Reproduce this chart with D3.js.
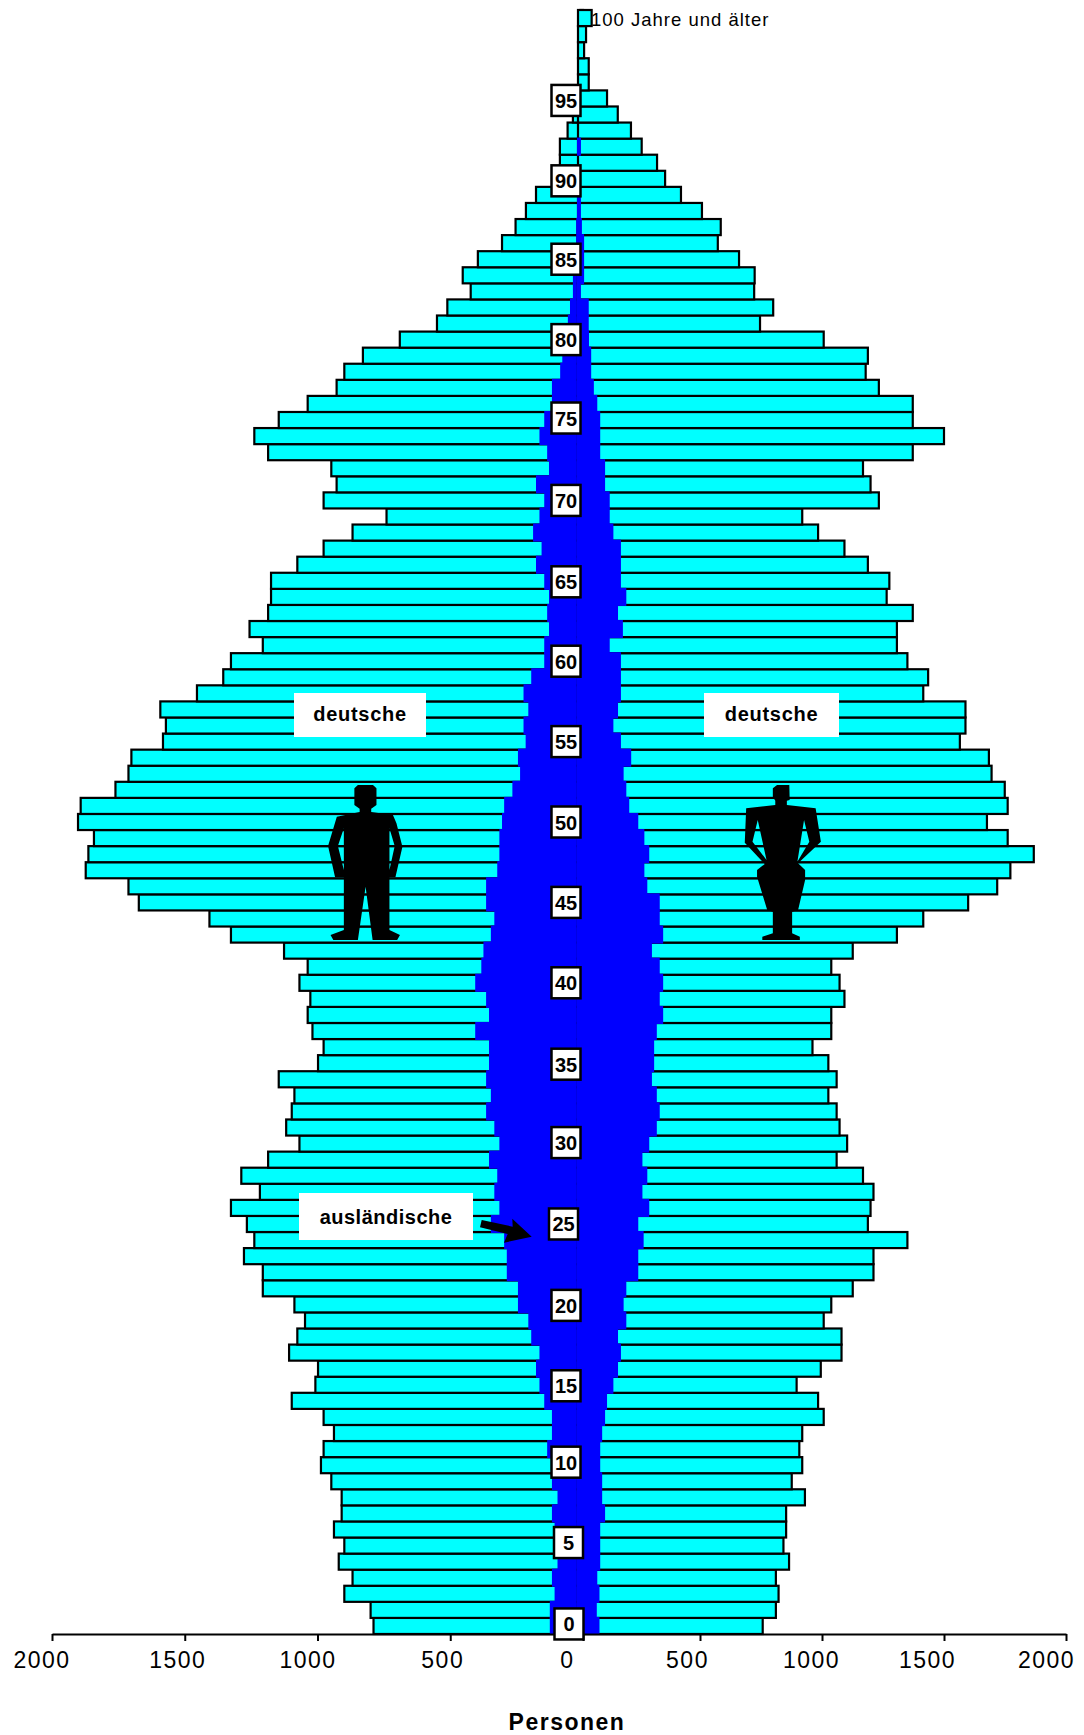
<!DOCTYPE html>
<html lang="de">
<head>
    <meta charset="UTF-8">
    <script src="https://d3js.org/d3.v7.min.js"></script>
    <title>Alterspyramide</title>
    <style>
        html, body { margin: 0; padding: 0; background: #fff; }
        svg { display: block; font-family: "Liberation Sans", Arial, sans-serif; }
    </style>
</head>
<body>
    <div id="chart"></div>

    <script>
        // index = age, 0 .. 100 (100 = "100 Jahre und aelter")
        var leftTotal = [789,800,899,868,920,899,938,909,909,948,987,977,938,977,1097,1008,998,1107,1076,1047,
            1087,1206,1206,1277,1238,1266,1326,1217,1287,1186,1068,1118,1097,1087,1146,998,977,1019,1037,1027,
            1068,1037,1126,1326,1407,1673,1712,1873,1863,1842,1902,1892,1761,1712,1701,1582,1571,1592,1454,1355,
            1326,1206,1256,1186,1175,1175,1076,977,868,740,977,928,948,1186,1238,1146,1037,928,899,829,
            690,550,511,423,453,396,305,254,215,177,102,87,87,58,38,15,10,10,10,10,10];
        var leftForeign = [125,125,107,117,96,107,107,117,96,117,117,135,117,117,146,164,177,164,195,206,
            245,245,287,287,297,347,315,334,323,354,315,334,365,347,365,354,354,406,354,365,
            406,383,375,347,334,365,365,323,315,315,305,297,266,237,245,216,224,206,224,195,
            146,146,128,135,128,146,177,156,188,164,146,177,128,135,164,146,117,117,86,78,
            70,57,49,38,38,34,26,26,19,19,5,5,5,5,5,5,5,5,5,5,5];
        var rightTotal = [757,811,822,811,865,842,853,853,930,876,919,907,919,1007,984,896,995,1080,1080,1007,
            1038,1126,1211,1211,1350,1188,1199,1211,1168,1060,1103,1072,1060,1026,1060,1026,961,1038,1038,1092,
            1072,1038,1126,1307,1415,1599,1718,1772,1868,1761,1676,1761,1749,1695,1684,1565,1588,1588,1415,1435,
            1350,1307,1307,1372,1265,1276,1188,1092,984,919,1233,1199,1168,1372,1500,1372,1372,1233,1179,1188,
            1007,746,800,722,724,660,573,585,508,422,357,324,261,217,163,119,44,44,25,33,56];
        var rightForeign = [88,77,88,79,91,91,91,111,99,99,91,91,99,111,119,145,164,176,164,198,
            187,198,247,247,269,247,292,264,284,264,292,323,335,323,303,312,312,323,349,335,
            349,335,303,349,335,335,284,272,292,272,247,210,198,187,218,176,145,164,176,176,
            176,130,184,164,198,176,176,176,145,130,130,111,111,91,91,91,79,65,54,54,
            45,44,44,12,25,25,25,16,12,12,0,0,12,0,0,0,0,0,0,0,0];
        var ageLabels = [0,5,10,15,20,25,30,35,40,45,50,55,60,65,70,75,80,85,90,95];
        var ticksLeft = [2000,1500,1000,500,0];
        var ticksRight = [500,1000,1500,2000];

        var width = 1084;
        var height = 1735;
        var axisY = 1634;
        var ages = d3.range(0, 101);

        var svg = d3.select('#chart').append('svg')
            .attr('width', width)
            .attr('height', height);

        var xL = d3.scaleLinear().domain([2000, 0]).range([52, 583]);
        var xR = d3.scaleLinear().domain([0, 2000]).range([578, 1066]);
        var y = d3.scaleBand().domain(ages.slice().reverse()).range([10, axisY]);

        // left side first, the right side is laid over the 5px where the two scales overlap
        function side(total, foreign, x, isLeft) {
            var g = svg.append('g');
            g.selectAll('.bar').data(ages).enter().append('rect')
                .attr('class', 'bar')
                .attr('x', function(d) { return isLeft ? x(total[d]) : x(0); })
                .attr('y', function(d) { return y(d); })
                .attr('width', function(d) { return isLeft ? x(0) - x(total[d]) : x(total[d]) - x(0); })
                .attr('height', y.bandwidth())
                .attr('fill', '#00ffff')
                .attr('stroke', '#000')
                .attr('stroke-width', 2.2);
            g.selectAll('.foreign').data(ages.filter(function(d) { return foreign[d] > 0; })).enter().append('rect')
                .attr('class', 'foreign')
                .attr('x', function(d) { return isLeft ? x(foreign[d]) : x(0) - 1; })
                .attr('y', function(d) { return y(d) - 1; })
                .attr('width', function(d) { return isLeft ? x(0) - x(foreign[d]) : x(foreign[d]) - x(0) + 1; })
                .attr('height', y.bandwidth() + 2)
                .attr('fill', '#0000ff');
        }
        side(leftTotal, leftForeign, xL, true);
        side(rightTotal, rightForeign, xR, false);

        // axes, the labels sit left of their ticks in the original
        var leftShift = [-10.5, -7.5, -10, -8, -16];
        var rightShift = [-13, -11, -17, -20];
        function drawAxis(scale, values, shift) {
            var a = svg.append('g')
                .attr('transform', 'translate(0,' + axisY + ')')
                .call(d3.axisBottom(scale).tickValues(values).tickFormat(d3.format('d')).tickSize(7).tickSizeOuter(0));
            a.select('.domain').attr('stroke', '#000').attr('stroke-width', 2);
            a.selectAll('.tick line').attr('stroke', '#000').attr('stroke-width', 2);
            a.selectAll('.tick text')
                .attr('x', function(d, i) { return shift[i]; })
                .attr('y', 18)
                .attr('dy', 16)
                .attr('fill', '#000')
                .style('font-family', '"Liberation Sans", Arial, sans-serif')
                .style('font-size', '23px')
                .style('letter-spacing', '1.5px');
        }
        drawAxis(xL, ticksLeft, leftShift);
        drawAxis(xR, ticksRight, rightShift);

        svg.append('text')
            .attr('x', 567).attr('y', 1730)
            .attr('text-anchor', 'middle')
            .style('font-size', '23px').style('font-weight', 'bold').style('letter-spacing', '1.5px')
            .text('Personen');

        // age boxes, nudged by hand in the original so they do not line up exactly with their rows
        var ageShiftX = {0: 3, 5: 2.5, 25: -2.5};
        var ageShiftY = {0: -2, 5: -3, 10: -3, 15: 1, 20: 1, 30: -1, 35: 1, 65: 1, 75: -2, 90: 2, 95: 2};
        var boxes = svg.selectAll('.age').data(ageLabels).enter().append('g')
            .attr('class', 'age')
            .attr('transform', function(d) {
                return 'translate(' + (566 + (ageShiftX[d] || 0)) + ',' + (y(d) + y.bandwidth() / 2 + (ageShiftY[d] || 0)) + ')';
            });
        boxes.append('rect')
            .attr('x', -14.5).attr('y', -15.5)
            .attr('width', 29).attr('height', 31)
            .attr('fill', '#fff').attr('stroke', '#000').attr('stroke-width', 2.5);
        boxes.append('text')
            .attr('text-anchor', 'middle').attr('y', 7.5)
            .style('font-size', '20px').style('font-weight', 'bold')
            .text(function(d) { return d; });

        svg.append('text')
            .attr('x', 591).attr('y', 25.5)
            .style('font-size', '18.5px').style('letter-spacing', '1px')
            .text('100 Jahre und älter');

        // white name tags
        var tags = [
            {text: 'deutsche', x: 294, y: 693, w: 132, h: 44, ty: 721, ls: 0.7},
            {text: 'deutsche', x: 704, y: 693, w: 135, h: 44, ty: 721, ls: 0.7},
            {text: 'ausländische', x: 299, y: 1193, w: 174, h: 47, ty: 1224, ls: 0.5}
        ];
        var tag = svg.selectAll('.tag').data(tags).enter().append('g').attr('class', 'tag');
        tag.append('rect')
            .attr('x', function(d) { return d.x; }).attr('y', function(d) { return d.y; })
            .attr('width', function(d) { return d.w; }).attr('height', function(d) { return d.h; })
            .attr('fill', '#fff');
        tag.append('text')
            .attr('x', function(d) { return d.x + d.w / 2; }).attr('y', function(d) { return d.ty; })
            .attr('text-anchor', 'middle')
            .style('font-size', '20px').style('font-weight', 'bold')
            .style('letter-spacing', function(d) { return d.ls + 'px'; })
            .text(function(d) { return d.text; });

        // arrow to the foreign part
        svg.append('polygon')
            .attr('points', '481.7,1220 512.7,1226.7 512.3,1218.7 531.7,1236.7 504,1242.7 507.7,1234 480,1227.3')
            .attr('fill', '#000');

        var man = 'M155,85 L165,75 L208,75 L218,85 L218,135 L203,146 L203,156 L265,165 L275,190 L292,260 L272,352 L255,352 ' +
            'L255,510 L285,525 L277,540 L207,540 L187,380 L165,540 L95,540 L87,525 L125,510 L125,352 L100,352 L80,258 L105,170 L170,156 L170,146 L155,135 Z ' +
            'M125,205 L108,258 L125,330 Z M255,205 L270,258 L255,330 Z';
        var woman = 'M1348,85 L1360,75 L1395,75 L1396,120 L1388,122 L1388,135 L1470,145 L1485,245 L1420,310 L1440,330 L1440,360 L1420,450 L1403,455 ' +
            'L1403,520 L1425,530 L1425,540 L1318,540 L1318,530 L1348,520 L1348,455 L1332,450 L1303,350 L1303,330 L1325,312 L1268,248 L1272,145 L1355,135 L1355,122 L1348,110 Z ' +
            'M1437,180 L1418,305 L1452,245 Z M1305,180 L1290,245 L1330,300 Z';
        svg.append('path')
            .attr('transform', 'translate(300,760) scale(' + (550 / 1568) + ',' + (1 / 3) + ')')
            .attr('d', man + ' ' + woman)
            .attr('fill', '#000')
            .attr('fill-rule', 'evenodd');
    </script>
</body>
</html>
